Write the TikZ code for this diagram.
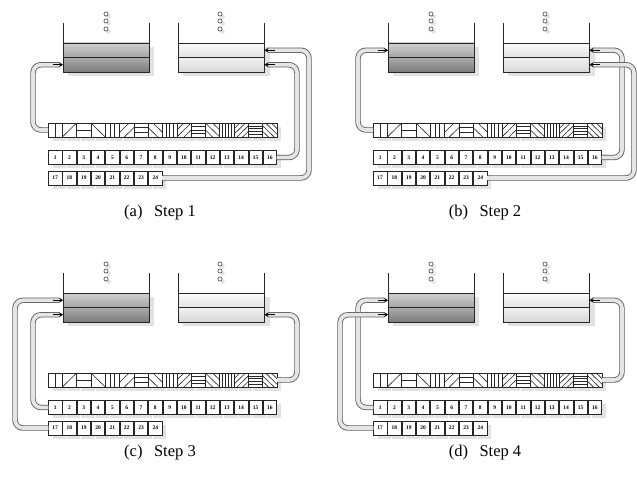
\documentclass[tikz,border=0pt]{standalone}
\usepackage{fontspec}
\setmainfont{Liberation Serif}
\usetikzlibrary{arrows.meta,calc}
\definecolor{luT}{HTML}{D0D0D0}
\definecolor{luB}{HTML}{A4A4A4}
\definecolor{llT}{HTML}{ABABAB}
\definecolor{llB}{HTML}{7C7C7C}
\definecolor{ruT}{HTML}{FBFBFB}
\definecolor{ruB}{HTML}{E2E2E2}
\definecolor{rlT}{HTML}{F2F2F2}
\definecolor{rlB}{HTML}{D6D6D6}
\definecolor{shadec}{HTML}{E2E2E2}
\tikzset{
  wall/.style={line width=0.8pt, draw=black!85},
  band/.style={draw=black!85, line width=0.8pt, minimum width=86pt, minimum height=14.5pt,
    anchor=north west, inner sep=0pt, outer sep=0pt},
  cellbox/.style={draw=black!85, line width=0.6pt},
  numcell/.style={draw=black!85, line width=0.6pt, fill=white, minimum width=13.4pt,
    minimum height=14pt, inner sep=0pt, outer sep=0pt, font=\fontsize{5.5}{6}\selectfont\bfseries},
  pipe/.style={draw=black!65, line width=0.8pt, double=black!10, double distance=3.8pt,
    rounded corners=8pt},
  pipetip/.style={draw=black, line width=0.8pt, -{Stealth[length=4pt,width=5pt]}},
  dotc/.style={draw=black!75, line width=0.6pt, fill=white},
  capt/.style={font=\fontsize{16.5}{18}\selectfont, inner sep=0pt}
}
\newcommand\panelbody{%
  % shadows of buckets
  \fill[shadec] (68,47) rectangle (154,76);
  \fill[shadec] (183,47) rectangle (270,76);
  % dots
  \foreach \yy in {14,21,29} {
    \fill[shadec] (108.5,\yy+2.5) circle[radius=2.3pt];
    \draw[dotc] (106,\yy) circle[radius=2.1pt];
    \fill[shadec] (222.5,\yy+2.5) circle[radius=2.3pt];
    \draw[dotc] (220,\yy) circle[radius=2.1pt];
  }
  % buckets
  \node[band, top color=luT, bottom color=luB] (lU) at (63,43) {};
  \node[band, top color=llT, bottom color=llB] (lL) at (63,57.5) {};
  \node[band, top color=ruT, bottom color=ruB] (rU) at (178.5,43) {};
  \node[band, top color=rlT, bottom color=rlB] (rL) at (178.5,57.5) {};
  \draw[wall] (63,23) -- (lU.north west);
  \draw[wall] (149,23) -- (lU.north east);
  \draw[wall] (178.5,23) -- (rU.north west);
  \draw[wall] (264.5,23) -- (rU.north east);
  % shadows of cells
  \foreach \i in {0,...,15} {
    \fill[shadec] (48.6+\i*14.3125+4,127) rectangle ++(13.4,14);
    \fill[shadec] (48.6+\i*14.3125+4,154) rectangle ++(13.4,14);
  }
  \foreach \i in {0,...,7} {
    \fill[shadec] (48.6+\i*14.3125+4,175) rectangle ++(13.4,14);
  }
  % pattern strip
  \node[draw=black!85, line width=0.7pt, fill=white, minimum width=229pt, minimum height=14pt,
    anchor=north west, inner sep=0pt, outer sep=0pt] (strip) at (48,123) {};
  \foreach \i in {0,...,15} {
    \pgfmathtruncatemacro\ori{mod(\i,4)}
    \pgfmathtruncatemacro\nn{int(\i/4)+1}
    \pgfmathsetmacro\xa{48+\i*14.3125}
    \begin{scope}
      \clip (\xa,123) rectangle ++(14.3125,14);
      \foreach \k in {1,...,\nn} {
        \pgfmathsetmacro\ff{\k/(\nn+1)}
        \pgfmathsetmacro\cc{-1+2*\ff}
        \pgfmathsetmacro\ss{2*\ff}
        \ifcase\ori
          \draw[cellbox] (\xa+\ff*14.3125,123) -- ++(0,14);
        \or
          \draw[cellbox] (\xa+\ss*14.3125+14.3125,109) -- (\xa+\ss*14.3125-2*14.3125,151);
        \or
          \draw[cellbox] (\xa,123+\ff*14) -- ++(14.3125,0);
        \or
          \draw[cellbox] (\xa+\cc*14.3125-14.3125,109) -- (\xa+\cc*14.3125+2*14.3125,151);
        \fi
      }
    \end{scope}
    \draw[cellbox] (\xa,123) rectangle ++(14.3125,14);
  }
  % number cells
  \foreach \i in {1,...,16} {
    \node[numcell] (n\i) at (48+\i*14.3125-7.156,157.5) {\i};
  }
  \foreach \i in {17,...,24} {
    \node[numcell] (n\i) at (48+\i*14.3125-16*14.3125-7.156,178) {\i};
  }
  \coordinate (cA) at (33,0);
  \coordinate (cB) at (15,0);
  \coordinate (cC) at (297,0);
  \coordinate (cD) at (309,0);
}
% #1 start, #2 column, #3 target anchor, #4 side (-1 left target, 1 right target)
\newcommand\tube[4]{%
  \draw[pipe] (#1) -- (#1 -| #2) -- (#2 |- #3) -- ([xshift=#4*4pt]#3);
  \draw[pipetip] ([xshift=#4*10pt]#3) -- (#3);
}
\begin{document}
\begin{tikzpicture}[x=1pt,y=-1pt]
\useasboundingbox (0,0) rectangle (637,487);
% (a)
\begin{scope}[name prefix=a-]
  \panelbody
  \tube{n24.east}{cD}{rU.east}{1}
  \tube{n16.east}{cC}{rL.east}{1}
  \tube{strip.west}{cA}{lL.west}{-1}
\end{scope}
% (b)
\begin{scope}[shift={(325,0)}, name prefix=b-]
  \panelbody
  \tube{n16.east}{cC}{rU.east}{1}
  \tube{n24.east}{cD}{rL.east}{1}
  \tube{strip.west}{cA}{lU.west}{-1}
\end{scope}
% (c)
\begin{scope}[shift={(0,250)}, name prefix=c-]
  \panelbody
  \tube{strip.east}{cC}{rL.east}{1}
  \tube{n17.west}{cB}{lU.west}{-1}
  \tube{n1.west}{cA}{lL.west}{-1}
\end{scope}
% (d)
\begin{scope}[shift={(325,250)}, name prefix=d-]
  \panelbody
  \tube{strip.east}{cC}{rU.east}{1}
  \tube{n1.west}{cA}{lU.west}{-1}
  \tube{n17.west}{cB}{lL.west}{-1}
\end{scope}
\node[capt] (capa) at (160,213) {(a)\hspace{0.7em}Step 1};
\node[capt] (capb) at (485,213) {(b)\hspace{0.7em}Step 2};
\node[capt] (capc) at (160,453) {(c)\hspace{0.7em}Step 3};
\node[capt] (capd) at (485,453) {(d)\hspace{0.7em}Step 4};
\end{tikzpicture}
\end{document}
